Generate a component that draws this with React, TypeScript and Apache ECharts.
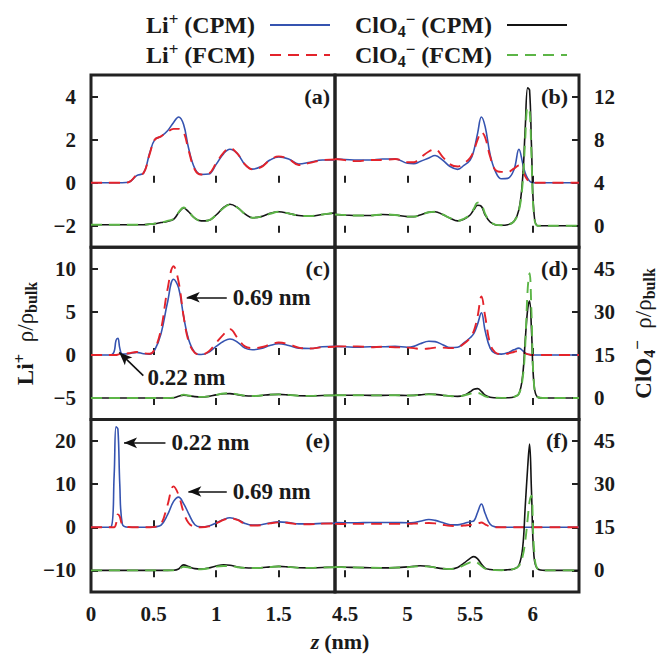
import React, { useEffect, useRef } from "react";
import * as echarts from "echarts";

// z positions (nm) sampled in the left and right panels
const zLeft = [
  0, 0.1, 0.16, 0.185, 0.2, 0.215, 0.23, 0.25,
  0.3, 0.365, 0.42, 0.47, 0.51, 0.56, 0.61, 0.66,
  0.7, 0.74, 0.78, 0.83, 0.88, 0.94, 1.0, 1.06,
  1.11, 1.17, 1.23, 1.29, 1.36, 1.43, 1.5, 1.58,
  1.66, 1.75, 1.85, 1.95,
];
const zRight = [
  4.42, 4.5, 4.6, 4.7, 4.8, 4.9, 5.0, 5.05,
  5.1, 5.17, 5.22, 5.28, 5.34, 5.4, 5.45, 5.5,
  5.53, 5.56, 5.59, 5.62, 5.66, 5.7, 5.75, 5.8,
  5.85, 5.89, 5.92, 5.94, 5.96, 5.975, 5.99, 6.01,
  6.04, 6.1, 6.2, 6.37,
];

// Li+ rho/rho_bulk (left axis units)
const liCpmA = [0, 0, 0, 0, 0, 0, 0, 0, 0.02, 0.33, 0.45, 1.4, 2.0, 2.15, 2.4, 2.8, 3.05, 2.7, 1.6, 0.65, 0.38, 0.4, 0.85, 1.35, 1.55, 1.35, 0.85, 0.63, 0.75, 1.05, 1.2, 1.1, 0.87, 0.95, 1.05, 1.05];
const liFcmA = [0, 0, 0, 0, 0, 0, 0, 0, 0.02, 0.35, 0.45, 1.35, 2.0, 2.15, 2.35, 2.5, 2.5, 2.35, 1.5, 0.6, 0.38, 0.42, 0.9, 1.4, 1.6, 1.35, 0.85, 0.62, 0.72, 1.05, 1.22, 1.1, 0.82, 0.92, 1.05, 1.08];
const liCpmB = [1.1, 1.08, 1.05, 1.05, 1.1, 1.1, 0.9, 0.88, 0.98, 1.15, 1.26, 1.05, 0.75, 0.62, 0.8, 1.05, 1.5, 2.3, 3.05, 2.6, 1.3, 0.55, 0.18, 0.2, 0.6, 1.55, 0.9, 0.45, 0.2, 0.08, 0.02, 0, 0, 0, 0, 0];
const liFcmB = [1.1, 1.05, 1.0, 1.05, 1.05, 1.1, 0.95, 0.95, 1.15, 1.45, 1.55, 1.2, 0.85, 0.75, 0.9, 1.15, 1.5, 2.0, 2.35, 2.1, 1.2, 0.6, 0.5, 0.5, 0.65, 0.8, 0.55, 0.3, 0.12, 0.05, 0.02, 0, 0, 0, 0, 0];
const liCpmC = [0, 0, 0, 0.4, 1.7, 1.95, 0.8, 0.1, 0.15, 0.3, 0.15, 0.1, 0.6, 2.5, 6.0, 8.8, 7.8, 4.5, 1.8, 0.3, 0.05, 0.3, 1.0, 1.6, 1.85, 1.5, 0.8, 0.6, 0.75, 1.1, 1.3, 1.1, 0.8, 0.75, 0.95, 1.0];
const liFcmC = [0, 0, 0, 0, 0, 0.05, 0.1, 0.15, 0.2, 0.35, 0.2, 0.15, 0.7, 3.0, 7.5, 10.3, 8.5, 4.5, 1.6, 0.25, 0.05, 0.4, 1.4, 2.4, 3.0, 2.0, 1.0, 0.8, 0.9, 1.2, 1.45, 1.25, 0.85, 0.75, 0.9, 0.95];
const liCpmD = [1.0, 0.95, 0.9, 0.95, 0.95, 1.0, 0.9, 1.0, 1.3, 1.6, 1.55, 1.2, 0.85, 0.9, 1.4, 2.0, 2.5, 3.6, 4.9, 2.8, 0.8, 0.2, 0.1, 0.25, 0.6, 0.8, 0.5, 0.25, 0.1, 0.05, 0, 0, 0, 0, 0, 0];
const liFcmD = [1.0, 1.0, 1.0, 0.9, 0.95, 0.9, 0.85, 0.8, 0.7, 0.75, 0.85, 0.85, 0.8, 0.9, 1.3, 2.0, 2.8, 4.5, 6.8, 4.5, 1.3, 0.3, 0.1, 0.15, 0.35, 0.5, 0.35, 0.2, 0.1, 0.05, 0, 0, 0, 0, 0, 0];
const liCpmE = [0, 0, 0.1, 12, 23.3, 22.8, 10, 0.8, 0, 0, 0, 0, 0.1, 0.5, 2.8, 6.0, 7.0, 5.5, 3.2, 0.6, 0.1, 0.3, 1.0, 1.8, 2.2, 1.8, 0.9, 0.5, 0.6, 1.0, 1.25, 1.1, 0.8, 0.8, 0.9, 0.95];
const liFcmE = [0, 0, 0, 0, 0.8, 3.0, 2.5, 0.7, 0.05, 0, 0, 0, 0.1, 0.8, 5.0, 9.5, 7.5, 3.5, 1.0, 0.1, 0, 0.2, 0.9, 1.7, 2.1, 1.7, 0.8, 0.4, 0.5, 0.9, 1.15, 1.0, 0.7, 0.7, 0.85, 0.9];
const liCpmF = [1.08, 1.05, 1.05, 1.1, 1.1, 1.1, 1.05, 1.1, 1.4, 1.8, 1.6, 1.1, 0.6, 0.55, 0.9, 1.3, 1.5, 3.5, 5.4, 3.2, 0.7, 0.1, 0, 0, 0, 0, 0, 0, 0, 0, 0, 0, 0, 0, 0, 0];
const liFcmF = [0.8, 0.75, 0.8, 0.8, 0.8, 0.8, 0.8, 0.85, 0.9, 1.0, 0.9, 0.6, 0.35, 0.3, 0.4, 0.55, 0.6, 0.85, 1.1, 0.7, 0.15, 0, 0, 0, 0, 0, 0, 0, 0, 0, 0, 0, 0, 0, 0, 0];

// ClO4- rho/rho_bulk (right axis units)
const clCpmA = [0.1, 0.1, 0.1, 0.1, 0.1, 0.1, 0.1, 0.1, 0.1, 0.1, 0.1, 0.15, 0.2, 0.3, 0.4, 0.6, 1.2, 1.65, 1.3, 0.7, 0.45, 0.5, 1.0, 1.7, 2.0, 1.7, 1.1, 0.75, 0.85, 1.15, 1.3, 1.15, 0.95, 0.9, 1.05, 1.2];
const clFcmA = [0.1, 0.1, 0.1, 0.1, 0.1, 0.1, 0.1, 0.1, 0.1, 0.1, 0.1, 0.15, 0.2, 0.3, 0.45, 0.65, 1.25, 1.7, 1.3, 0.7, 0.45, 0.5, 1.0, 1.65, 1.95, 1.7, 1.1, 0.75, 0.85, 1.1, 1.3, 1.15, 0.95, 0.9, 1.05, 1.2];
const clCpmB = [1.05, 1.0, 0.95, 0.95, 1.05, 1.0, 0.85, 0.85, 1.0, 1.25, 1.3, 1.05, 0.7, 0.45, 0.6, 1.0, 1.5, 1.9, 1.8, 1.0, 0.35, 0.1, 0.05, 0.1, 0.4, 1.5, 4.5, 9.0, 12.8, 12.6, 7.5, 1.2, 0, 0, 0, 0];
const clFcmB = [1.05, 1.0, 0.95, 0.95, 1.05, 1.0, 0.85, 0.85, 1.0, 1.25, 1.3, 1.05, 0.7, 0.45, 0.65, 1.05, 1.6, 2.15, 2.0, 1.1, 0.4, 0.1, 0.05, 0.1, 0.4, 1.4, 4.0, 8.0, 11.0, 10.8, 6.5, 1.0, 0, 0, 0, 0];
const clCpmC = [0, 0, 0, 0, 0, 0, 0, 0, 0, 0, 0, 0, 0, 0, 0, 0.1, 0.6, 1.0, 0.8, 0.5, 0.4, 0.6, 1.1, 1.5, 1.55, 1.2, 0.8, 0.7, 0.9, 1.2, 1.3, 1.1, 0.8, 0.75, 0.9, 0.95];
const clFcmC = [0, 0, 0, 0, 0, 0, 0, 0, 0, 0, 0, 0, 0, 0, 0, 0.15, 0.7, 1.2, 0.9, 0.5, 0.4, 0.6, 1.1, 1.6, 1.7, 1.3, 0.85, 0.7, 0.9, 1.2, 1.3, 1.1, 0.8, 0.75, 0.9, 0.95];
const clCpmD = [1.0, 1.0, 1.0, 0.95, 0.95, 1.0, 0.9, 0.95, 1.1, 1.4, 1.3, 1.0, 0.7, 0.6, 1.0, 2.2, 3.1, 3.3, 2.3, 1.0, 0.3, 0.1, 0.05, 0.1, 0.4, 1.5, 8.0, 20.0, 31.0, 33.8, 24.0, 5.0, 0.3, 0, 0, 0];
const clFcmD = [1.0, 1.0, 1.0, 0.95, 0.95, 1.0, 0.9, 0.95, 1.1, 1.3, 1.25, 1.0, 0.7, 0.6, 0.9, 1.5, 1.8, 1.8, 1.3, 0.6, 0.2, 0.1, 0.05, 0.1, 0.4, 1.5, 7.0, 18.0, 38.0, 43.5, 30.0, 5.0, 0.3, 0, 0, 0];
const clCpmE = [0, 0, 0, 0, 0, 0, 0, 0, 0, 0, 0, 0, 0, 0, 0, 0.05, 0.5, 1.9, 1.3, 0.6, 0.5, 0.8, 1.5, 1.95, 1.8, 1.2, 0.9, 0.8, 0.9, 1.2, 1.4, 1.2, 0.9, 0.85, 1.0, 1.1];
const clFcmE = [0, 0, 0, 0, 0, 0, 0, 0, 0, 0, 0, 0, 0, 0, 0, 0.05, 0.4, 1.2, 1.0, 0.5, 0.4, 0.7, 1.3, 1.5, 1.5, 1.1, 0.85, 0.8, 0.9, 1.15, 1.35, 1.2, 0.9, 0.85, 1.0, 1.1];
const clCpmF = [1.15, 1.1, 1.0, 0.9, 0.85, 0.95, 1.2, 1.4, 1.6, 1.4, 1.0, 0.6, 0.5, 1.0, 2.5, 4.2, 4.8, 4.0, 2.2, 0.8, 0.3, 0.1, 0.05, 0.2, 0.5, 1.8, 8.0, 22.0, 36.0, 44.0, 28.0, 5.0, 0.5, 0, 0, 0];
const clFcmF = [1.15, 1.1, 1.0, 0.9, 0.85, 0.95, 1.1, 1.3, 1.4, 1.3, 1.0, 0.6, 0.5, 0.9, 1.8, 2.8, 3.1, 2.6, 1.5, 0.6, 0.2, 0.1, 0.05, 0.2, 0.5, 1.5, 5.0, 10.0, 18.0, 24.0, 26.0, 8.0, 0.5, 0, 0, 0];

const seriesNames = ["Li+ (CPM)", "Li+ (FCM)", "ClO4- (CPM)", "ClO4- (FCM)"];
const panelNames = ["(a)", "(b)", "(c)", "(d)", "(e)", "(f)"];
const liRange = [[-3, 5], [-7.5, 12.5], [-15, 25]];
const clRange = [[-2, 14], [-7.5, 52.5], [-7.5, 52.5]];
const liTicks = [[-2, 0, 2, 4], [-5, 0, 5, 10], [-10, 0, 10, 20]];
const clTicks = [[0, 4, 8, 12], [0, 15, 30, 45], [0, 15, 30, 45]];
const zLeftRange = [0, 1.95];
const zRightRange = [4.42, 6.37];
const zLeftTicks = [0, 0.5, 1, 1.5];
const zRightTicks = [4.5, 5, 5.5, 6];

// annotation arrows: panel, tail z, tail y, head z, head y, text, label offset
const arrows: [number, number, number, number, number, string, number[]][] = [
  [2, 1.085, 6.7, 0.765, 6.7, "0.69 nm", [6, 0]],
  [2, 0.418, -2.4, 0.226, 0.3, "0.22 nm", [60, 3]],
  [4, 0.595, 19.6, 0.264, 19.6, "0.22 nm", [6, 0]],
  [4, 1.085, 8.3, 0.778, 8.3, "0.69 nm", [6, 0]],
];

const panels = [
  { z: zLeft, li: [liCpmA, liFcmA], cl: [clCpmA, clFcmA] },
  { z: zRight, li: [liCpmB, liFcmB], cl: [clCpmB, clFcmB] },
  { z: zLeft, li: [liCpmC, liFcmC], cl: [clCpmC, clFcmC] },
  { z: zRight, li: [liCpmD, liFcmD], cl: [clCpmD, clFcmD] },
  { z: zLeft, li: [liCpmE, liFcmE], cl: [clCpmE, clFcmE] },
  { z: zRight, li: [liCpmF, liFcmF], cl: [clCpmF, clFcmF] },
];

const SERIF = '"Liberation Serif", "Times New Roman", serif';
const INK = "#1a1a1a";
const LEFT = 91;
const MID = 335;
const RIGHT = 579;
const TOP = 75;
const ROW_H = 172.3;

const lineColors = ["#3553b0", "#e3232b", "#141414", "#5cb547"];
const lineWidths = [1.6, 1.9, 1.6, 1.9];
const lineTypes: any[] = ["solid", [11, 7], "solid", [11, 7]];

const rich = (size: number) => ({
  b: { fontSize: size, fontWeight: "bold", fontFamily: SERIF, color: INK, lineHeight: 28 },
  r: { fontSize: size, fontFamily: SERIF, color: INK, lineHeight: 28 },
  i: { fontSize: size, fontStyle: "italic", fontFamily: SERIF, color: INK, lineHeight: 28 },
  sup: { fontSize: 17, fontWeight: "bold", fontFamily: SERIF, color: INK, verticalAlign: "top" },
  sub: { fontSize: 16, fontWeight: "bold", fontFamily: SERIF, color: INK, verticalAlign: "bottom" },
  gap: { fontSize: size, fontWeight: "bold", fontFamily: SERIF, color: INK, lineHeight: 28, padding: [0, 10, 0, 0] },
});

const legendText = (name: string) => {
  const mode = name.indexOf("CPM") >= 0 ? "CPM" : "FCM";
  return name.startsWith("Li")
    ? `{b|Li}{sup|+}{gap| (${mode})}`
    : `{b|ClO}{sub|4}{sup|−}{gap| (${mode})}`;
};

const fmtNum = (v: number) => (v < 0 ? "−" + -v : String(v));

const tickLabel = { fontSize: 21, fontWeight: "bold", fontFamily: SERIF, color: INK };

const App = () => {
  const chartRef = useRef<HTMLDivElement>(null);

  useEffect(() => {
    const chart = echarts.init(chartRef.current!, undefined, { renderer: "svg" });

    const grid: any[] = [];
    const xAxis: any[] = [];
    const yAxis: any[] = [];
    const series: any[] = [];

    panels.forEach((pan, p) => {
      const row = Math.floor(p / 2);
      const side = p % 2;
      grid.push({
        left: side ? MID : LEFT,
        top: TOP + row * ROW_H,
        width: RIGHT - MID,
        height: ROW_H,
        show: true,
        borderColor: "#222",
        borderWidth: 3,
        outerBoundsMode: "none",
      });
    });

    // bottom x axes
    panels.forEach((pan, p) => {
      const row = Math.floor(p / 2);
      const side = p % 2;
      const range = side ? zRightRange : zLeftRange;
      const ticks = side ? zRightTicks : zLeftTicks;
      xAxis.push({
        type: "value",
        gridIndex: p,
        min: range[0],
        max: range[1],
        position: "bottom",
        axisLine: { show: false },
        splitLine: { show: false },
        axisTick: { inside: true, length: 7, customValues: ticks, lineStyle: { color: "#222", width: 2 } },
        axisLabel: { show: row === 2, customValues: ticks, margin: 12, ...tickLabel },
      });
    });
    // top x axes (ticks only)
    panels.forEach((pan, p) => {
      const side = p % 2;
      const range = side ? zRightRange : zLeftRange;
      const ticks = side ? zRightTicks : zLeftTicks;
      xAxis.push({
        type: "value",
        gridIndex: p,
        min: range[0],
        max: range[1],
        position: "top",
        axisLine: { show: false },
        splitLine: { show: false },
        axisTick: { inside: true, length: 7, customValues: ticks, lineStyle: { color: "#222", width: 2 } },
        axisLabel: { show: false },
      });
    });
    // Li+ axes
    panels.forEach((pan, p) => {
      const row = Math.floor(p / 2);
      const side = p % 2;
      yAxis.push({
        type: "value",
        gridIndex: p,
        show: side === 0,
        position: "left",
        min: liRange[row][0],
        max: liRange[row][1],
        axisLine: { show: false },
        splitLine: { show: false },
        axisTick: { inside: true, length: 7, customValues: liTicks[row], lineStyle: { color: "#222", width: 2 } },
        axisLabel: { customValues: liTicks[row], margin: 15, formatter: fmtNum, ...tickLabel },
        name: p === 2 ? "{b|Li}{sup|+}{r|  ρ/ρ}{sub|bulk}" : "",
        nameLocation: "middle",
        nameRotate: 90,
        nameGap: 52,
        nameTextStyle: { rich: rich(23) },
      });
    });
    // ClO4- axes
    panels.forEach((pan, p) => {
      const row = Math.floor(p / 2);
      const side = p % 2;
      yAxis.push({
        type: "value",
        gridIndex: p,
        show: side === 1,
        position: "right",
        min: clRange[row][0],
        max: clRange[row][1],
        axisLine: { show: false },
        splitLine: { show: false },
        axisTick: { inside: true, length: 7, customValues: clTicks[row], lineStyle: { color: "#222", width: 2 } },
        axisLabel: { customValues: clTicks[row], margin: 15, formatter: fmtNum, ...tickLabel },
        name: p === 3 ? "{b|ClO}{sub|4}{sup|−}{r|  ρ/ρ}{sub|bulk}" : "",
        nameLocation: "middle",
        nameRotate: 90,
        nameGap: 50,
        nameTextStyle: { rich: rich(23) },
      });
    });

    panels.forEach((pan, p) => {
      const sets = [pan.li[0], pan.li[1], pan.cl[0], pan.cl[1]];
      sets.forEach((vals, k) => {
        const s: any = {
          type: "line",
          name: seriesNames[k],
          xAxisIndex: p,
          yAxisIndex: k < 2 ? p : 6 + p,
          data: pan.z.map((z, i) => [z, vals[i]]),
          showSymbol: false,
          symbol: "none",
          smooth: 0.4,
          lineStyle: { color: lineColors[k], width: lineWidths[k], type: lineTypes[k] },
          itemStyle: { color: lineColors[k] },
          z: 2 + k,
        };
        if (k === 0) {
          const mine = arrows.filter((a) => a[0] === p);
          if (mine.length) {
            s.markLine = {
              silent: true,
              symbol: ["none", "arrow"],
              symbolSize: [8, 13],
              lineStyle: { color: "#111", width: 1.6, type: "solid" },
              label: { show: true, position: "start", formatter: (d: any) => d.name, fontSize: 23, fontWeight: "bold", fontFamily: SERIF, color: INK },
              data: mine.map((a) => [
                { name: a[5], coord: [a[1], a[2]], label: { distance: a[6] } },
                { coord: [a[3], a[4]] },
              ]),
            };
          }
        }
        series.push(s);
      });
    });

    const legendBase = {
      align: "right",
      orient: "horizontal",
      itemWidth: 60,
      itemHeight: 14,
      padding: 0,
      itemGap: 0,
      selectedMode: false,
      formatter: legendText,
      itemStyle: { opacity: 0 },
      textStyle: { rich: rich(24) },
    };

    const option: any = {
      animation: false,
      backgroundColor: "#fff",
      title: {
        text: "{i|z} {b|(nm)}",
        left: MID,
        top: 622,
        textAlign: "center",
        textStyle: { rich: rich(22) },
      },
      legend: [
        { ...legendBase, data: [seriesNames[0]], right: 331, top: 11 },
        { ...legendBase, data: [seriesNames[2]], right: 94, top: 11 },
        { ...legendBase, data: [seriesNames[1]], right: 331, top: 41 },
        { ...legendBase, data: [seriesNames[3]], right: 94, top: 41 },
      ],
      grid,
      xAxis,
      yAxis,
      series,
      graphic: panelNames.map((t, p) => ({
        type: "text",
        silent: true,
        x: p % 2 ? RIGHT - 11 : MID - 5,
        y: TOP + Math.floor(p / 2) * ROW_H + 21,
        style: {
          text: t,
          textAlign: "right",
          textVerticalAlign: "middle",
          fontSize: 22,
          fontWeight: "bold",
          fontFamily: SERIF,
          fill: INK,
        },
      })),
    };

    chart.setOption(option);
    return () => {
      chart.dispose();
    };
  }, []);

  return (
    <div
      ref={chartRef}
      style={{ position: "fixed", left: 0, top: 0, width: 662, height: 656, background: "#fff" }}
    ></div>
  );
};

export default App;
